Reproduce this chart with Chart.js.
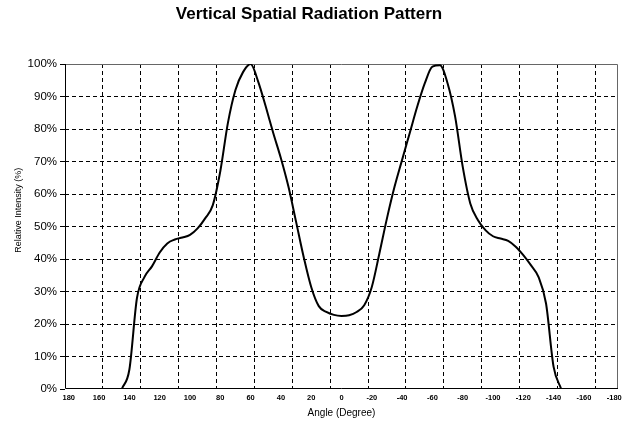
<!DOCTYPE html>
<html>
<head>
<meta charset="utf-8">
<script src="https://cdn.jsdelivr.net/npm/chart.js@4/dist/chart.umd.min.js"></script>
<style>
  body { margin: 0; background: #fff; }
  canvas { display: block; }
</style>
</head>
<body>
<canvas id="patternChart" width="626" height="425"></canvas>
<script>
// angle categories, 180 down to -180 in 5 degree steps
const angles = [
  180, 175, 170, 165, 160, 155, 150, 145, 140, 135, 130, 125, 120, 115, 110, 105,
  100, 95, 90, 85, 80, 75, 70, 65, 60, 55, 50, 45, 40, 35, 30, 25, 20, 15, 10, 5,
  0, -5, -10, -15, -20, -25, -30, -35, -40, -45, -50, -55, -60, -65, -70, -75,
  -80, -85, -90, -95, -100, -105, -110, -115, -120, -125, -130, -135, -140, -145,
  -150, -155, -160, -165, -170, -175, -180
];
// relative intensity in %
const intensity = [
  null, null, null, null, null, null, null, 0, 6, 28, 34.5, 37.8, 42, 44.8, 46, 46.6,
  47.4, 49.4, 52.5, 56.5, 67, 81.8, 92, 97.5, 100, 94.6, 86.9, 78.7, 71, 62.2, 51.5, 40.7, 31.4, 25.5, 23.7, 22.8,
  22.5, 22.7, 23.7, 25.8, 31.4, 41.7, 52.5, 62.2, 70.5, 78.7, 86.9, 94.1, 99.2, 99.6, 94.1, 83.8,
  68.4, 57.1, 52, 48.9, 47, 46.3, 45.6, 43.8, 41.2, 38.1, 34.5, 26.3, 6.8, 0,
  null, null, null, null, null, null, null
];
const yTicks = [0, 10, 20, 30, 40, 50, 60, 70, 80, 90, 100];

const LABEL_EVERY = 4; // 20 degrees
const GRID_EVERY = 5;  // 25 degrees

// frame and axis titles, drawn around the chart area
const decorations = {
  id: "decorations",
  beforeDatasetsDraw(chart) {
    const { ctx, chartArea: a } = chart;
    ctx.save();
    ctx.lineWidth = 1;
    ctx.strokeStyle = "#666";
    ctx.beginPath();
    ctx.moveTo(a.left, a.top + 0.5);
    ctx.lineTo(a.right - 0.5, a.top + 0.5);
    ctx.lineTo(a.right - 0.5, a.bottom);
    ctx.stroke();
    ctx.strokeStyle = "#000";
    ctx.beginPath();
    ctx.moveTo(a.left + 0.5, a.top);
    ctx.lineTo(a.left + 0.5, a.bottom - 0.5);
    ctx.lineTo(a.right, a.bottom - 0.5);
    ctx.stroke();
    ctx.restore();
  },
  afterDraw(chart) {
    const { ctx, chartArea: a } = chart;
    ctx.save();
    ctx.fillStyle = "#000";
    ctx.textAlign = "center";
    ctx.textBaseline = "middle";
    ctx.font = "10px 'Liberation Sans', Arial, sans-serif";
    ctx.fillText("Angle (Degree)", (a.left + a.right) / 2, 413);
    ctx.translate(19, a.top + (a.bottom - a.top) * 0.45);
    ctx.rotate(-Math.PI / 2);
    ctx.font = "9px 'Liberation Sans', Arial, sans-serif";
    ctx.fillText("Relative Intensity (%)", 0, 0);
    ctx.restore();
  }
};

const ctx = document.getElementById("patternChart").getContext("2d");
new Chart(ctx, {
  type: "line",
  data: {
    labels: angles,
    datasets: [
      {
        label: "Relative Intensity",
        data: intensity,
        borderColor: "#000",
        borderWidth: 2,
        pointRadius: 0,
        cubicInterpolationMode: "monotone",
        spanGaps: false,
        fill: false
      }
    ]
  },
  options: {
    responsive: false,
    animation: false,
    layout: { padding: { left: 0, right: 8, top: 0, bottom: 0 } },
    plugins: {
      legend: { display: false },
      tooltip: { enabled: false },
      title: {
        display: true,
        text: "Vertical Spatial Radiation Pattern",
        color: "#000",
        font: { family: "'Liberation Sans', Arial, sans-serif", size: 17, weight: "bold" },
        padding: { top: 4, bottom: 39.6 }
      }
    },
    scales: {
      x: {
        type: "category",
        offset: true,
        afterFit(scale) { scale.height = 36; },
        grid: {
          offset: true,
          drawTicks: false,
          lineWidth: 1,
          color: (c) => (c.index > 0 && c.index % GRID_EVERY === 0 ? "#000" : "rgba(0,0,0,0)")
        },
        border: { display: false, dash: [4, 3] },
        ticks: {
          autoSkip: false,
          maxRotation: 0,
          minRotation: 0,
          padding: 4,
          color: "#000",
          font: { family: "'Liberation Sans', Arial, sans-serif", size: 7.5, weight: "bold" },
          callback: (v, i) => (i % LABEL_EVERY === 0 ? String(angles[i]) : "")
        }
      },
      y: {
        min: 0,
        max: 100,
        afterFit(scale) { scale.width = 65; },
        afterBuildTicks(scale) { scale.ticks = yTicks.map((v) => ({ value: v })); },
        grid: {
          drawTicks: true,
          tickLength: 5,
          tickColor: "#000",
          lineWidth: 1,
          color: (c) => (c.tick && c.tick.value > 0 && c.tick.value < 100 ? "#000" : "rgba(0,0,0,0)")
        },
        border: { display: false, dash: [4, 3] },
        ticks: {
          padding: 3,
          color: "#000",
          font: { family: "'Liberation Sans', Arial, sans-serif", size: 11.5 },
          callback: (v) => v + "%"
        }
      }
    }
  },
  plugins: [decorations]
});
</script>
</body>
</html>
